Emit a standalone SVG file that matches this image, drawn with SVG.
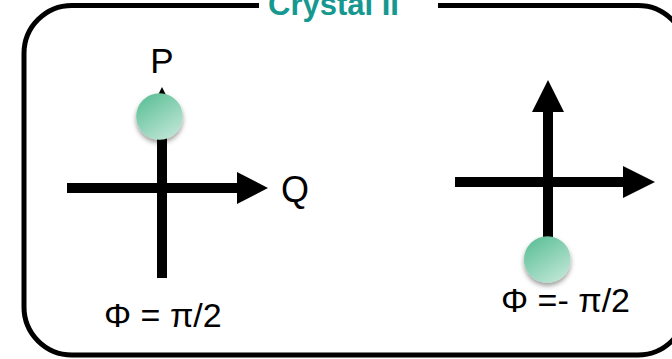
<svg xmlns="http://www.w3.org/2000/svg" width="672" height="359" viewBox="0 0 672 359">
  <style>
    .axis { stroke: #000; stroke-width: 10; fill: none; }
    .head { fill: #000; }
    .lbl { font-family: "Liberation Sans", Arial, sans-serif; fill: #000; }
    .title { font-family: "Liberation Sans", Arial, sans-serif; font-weight: bold; fill: #15988f; font-size: 31px; }
    .ball { fill: url(#ballGrad); filter: url(#shadow); }
  </style>
  <defs>
    <linearGradient id="ballGrad" x1="0.2" y1="0" x2="0.85" y2="1">
      <stop offset="0" stop-color="#5cbf97"/>
      <stop offset="1" stop-color="#c4e8d9"/>
    </linearGradient>
    <filter id="shadow" x="-50%" y="-50%" width="200%" height="200%">
      <feDropShadow dx="0" dy="3" stdDeviation="2.5" flood-color="#000" flood-opacity="0.4"/>
    </filter>
  </defs>
  <rect width="672" height="359" fill="#fff"/>

  <g id="frame">
    <rect x="24" y="5.5" width="662" height="349.5" rx="48" ry="48" fill="none" stroke="#000" stroke-width="5"/>
    <rect x="259" y="0" width="179" height="12" fill="#fff"/>
    <text class="title" x="268" y="15">Crystal II</text>
  </g>

  <g id="connectors">
    <line class="axis" x1="162" y1="119" x2="162" y2="278"/>
    <polygon class="head" points="162,87 146,119 178,119"/>
    <line class="axis" x1="67" y1="188" x2="238" y2="188"/>
    <polygon class="head" points="237,172 268,188 237,204"/>

    <line class="axis" x1="548" y1="111" x2="548" y2="240"/>
    <polygon class="head" points="548,80 532,112 564,112"/>
    <line class="axis" x1="455" y1="182" x2="624" y2="182"/>
    <polygon class="head" points="623,166 655,182 623,198"/>
  </g>

  <g id="left-diagram">
    <circle class="ball" cx="159.5" cy="116.5" r="23.3"/>
    <text class="lbl" x="162" y="73" font-size="35" text-anchor="middle">P</text>
    <text class="lbl" x="281" y="202" font-size="36">Q</text>
    <text class="lbl" x="104" y="327" font-size="34">Φ = π/2</text>
  </g>

  <g id="right-diagram">
    <circle class="ball" cx="547.3" cy="259.5" r="23.3"/>
    <text class="lbl" x="501" y="312" font-size="34">Φ =- π/2</text>
  </g>
</svg>
